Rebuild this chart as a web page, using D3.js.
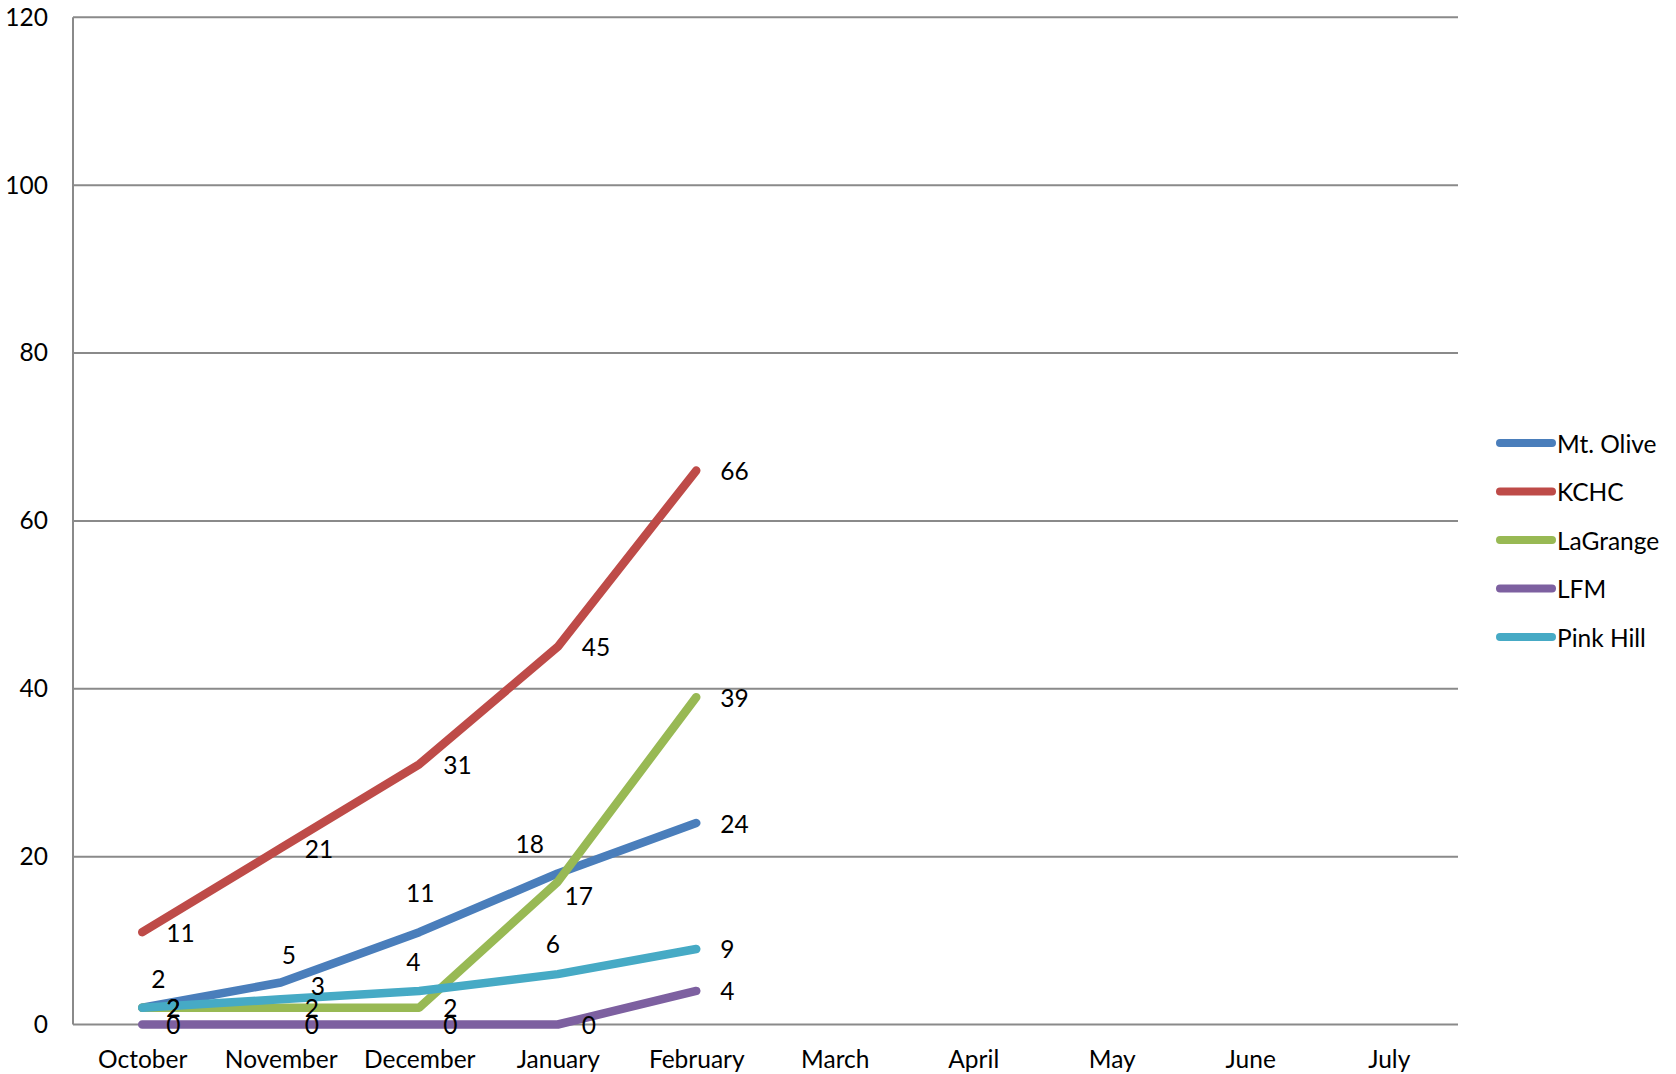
<!DOCTYPE html>
<html>
<head>
<meta charset="utf-8">
<script src="https://cdn.jsdelivr.net/npm/d3@7"></script>
<style>
  html, body { margin: 0; padding: 0; background: #ffffff; }
  svg { display: block; font-family: Lato, "Open Sans", sans-serif; }
</style>
</head>
<body>
<svg id="chart" width="1676" height="1074"></svg>
<script>
// Monthly counts per site
const months = ["October", "November", "December", "January", "February",
                "March", "April", "May", "June", "July"];
const seriesNames = ["Mt. Olive", "KCHC", "LaGrange", "LFM", "Pink Hill"];
const mtOlive  = [2, 5, 11, 18, 24];
const kchc     = [11, 21, 31, 45, 66];
const laGrange = [2, 2, 2, 17, 39];
const lfm      = [0, 0, 0, 0, 4];
const pinkHill = [2, 3, 4, 6, 9];
const yTicks   = [0, 20, 40, 60, 80, 100, 120];

const seriesValues = [mtOlive, kchc, laGrange, lfm, pinkHill];
const colors = ["#4A7EBB", "#BE4B48", "#98B954", "#7D60A0", "#46AAC5"];

// Label placement per point: null = to the right of the point,
// otherwise [dx, dy] for a centred label relative to the point.
const labelNudges = [
  [[16, -29], [8, -28], [1, -40], [-28, -30], null],
  [null, null, null, null, null],
  [null, null, null, [21, 14], null],
  [null, null, null, null, null],
  [null, [37, -14], [-6, -29], [-5, -31], null]
];

const svg = d3.select("#chart");
const plot = { left: 73, right: 1458, top: 17.3, bottom: 1024.5 };

const x = d3.scalePoint().domain(months).range([plot.left, plot.right]).padding(0.5);
const y = d3.scaleLinear().domain([0, 120]).range([plot.bottom, plot.top]);

const gridColor = "#8a8a8a";
const fontSize = 24.5;

// Horizontal gridlines
svg.append("g")
  .selectAll("line")
  .data(yTicks)
  .join("line")
  .attr("x1", plot.left).attr("x2", plot.right)
  .attr("y1", d => y(d)).attr("y2", d => y(d))
  .attr("stroke", gridColor).attr("stroke-width", 2);

// Vertical axis line
svg.append("line")
  .attr("x1", plot.left).attr("x2", plot.left)
  .attr("y1", y(120)).attr("y2", y(0))
  .attr("stroke", gridColor).attr("stroke-width", 2);

// Y axis labels
const yAxis = svg.append("g")
  .attr("transform", `translate(${plot.left},0)`)
  .call(d3.axisLeft(y).tickValues(yTicks).tickSize(0).tickPadding(25));
yAxis.select(".domain").remove();
yAxis.selectAll("text")
  .attr("font-family", "Lato, 'Open Sans', sans-serif")
  .attr("font-size", fontSize).attr("fill", "#000");

// X axis labels
const xAxis = svg.append("g")
  .attr("transform", `translate(0,${plot.bottom})`)
  .call(d3.axisBottom(x).tickSize(0).tickPadding(26));
xAxis.select(".domain").remove();
xAxis.selectAll("text")
  .attr("font-family", "Lato, 'Open Sans', sans-serif")
  .attr("font-size", fontSize).attr("fill", "#000");

// Series lines
const line = d3.line()
  .x((d, i) => x(months[i]))
  .y(d => y(d));

svg.append("g")
  .selectAll("path")
  .data(seriesValues)
  .join("path")
  .attr("d", d => line(d))
  .attr("fill", "none")
  .attr("stroke", (d, i) => colors[i])
  .attr("stroke-width", 8.5)
  .attr("stroke-linecap", "round")
  .attr("stroke-linejoin", "round");

// Data labels
const labels = svg.append("g")
  .attr("font-size", fontSize)
  .attr("fill", "#000");
seriesValues.forEach((vals, s) => {
  vals.forEach((v, i) => {
    const px = x(months[i]);
    const py = y(v);
    const nudge = labelNudges[s][i];
    const t = labels.append("text")
      .attr("dominant-baseline", "central")
      .text(v);
    if (nudge) {
      t.attr("x", px + nudge[0]).attr("y", py + nudge[1]).attr("text-anchor", "middle");
    } else {
      t.attr("x", px + 24).attr("y", py).attr("text-anchor", "start");
    }
  });
});

// Legend
const legend = svg.append("g").attr("transform", "translate(1500,443)");
const item = legend.selectAll("g")
  .data(seriesNames)
  .join("g")
  .attr("transform", (d, i) => `translate(0,${i * 48.5})`);
item.append("line")
  .attr("x1", 0).attr("x2", 52)
  .attr("stroke", (d, i) => colors[i])
  .attr("stroke-width", 8)
  .attr("stroke-linecap", "round");
item.append("text")
  .attr("x", 57)
  .attr("dominant-baseline", "central")
  .attr("font-size", fontSize)
  .text(d => d);
</script>
</body>
</html>
